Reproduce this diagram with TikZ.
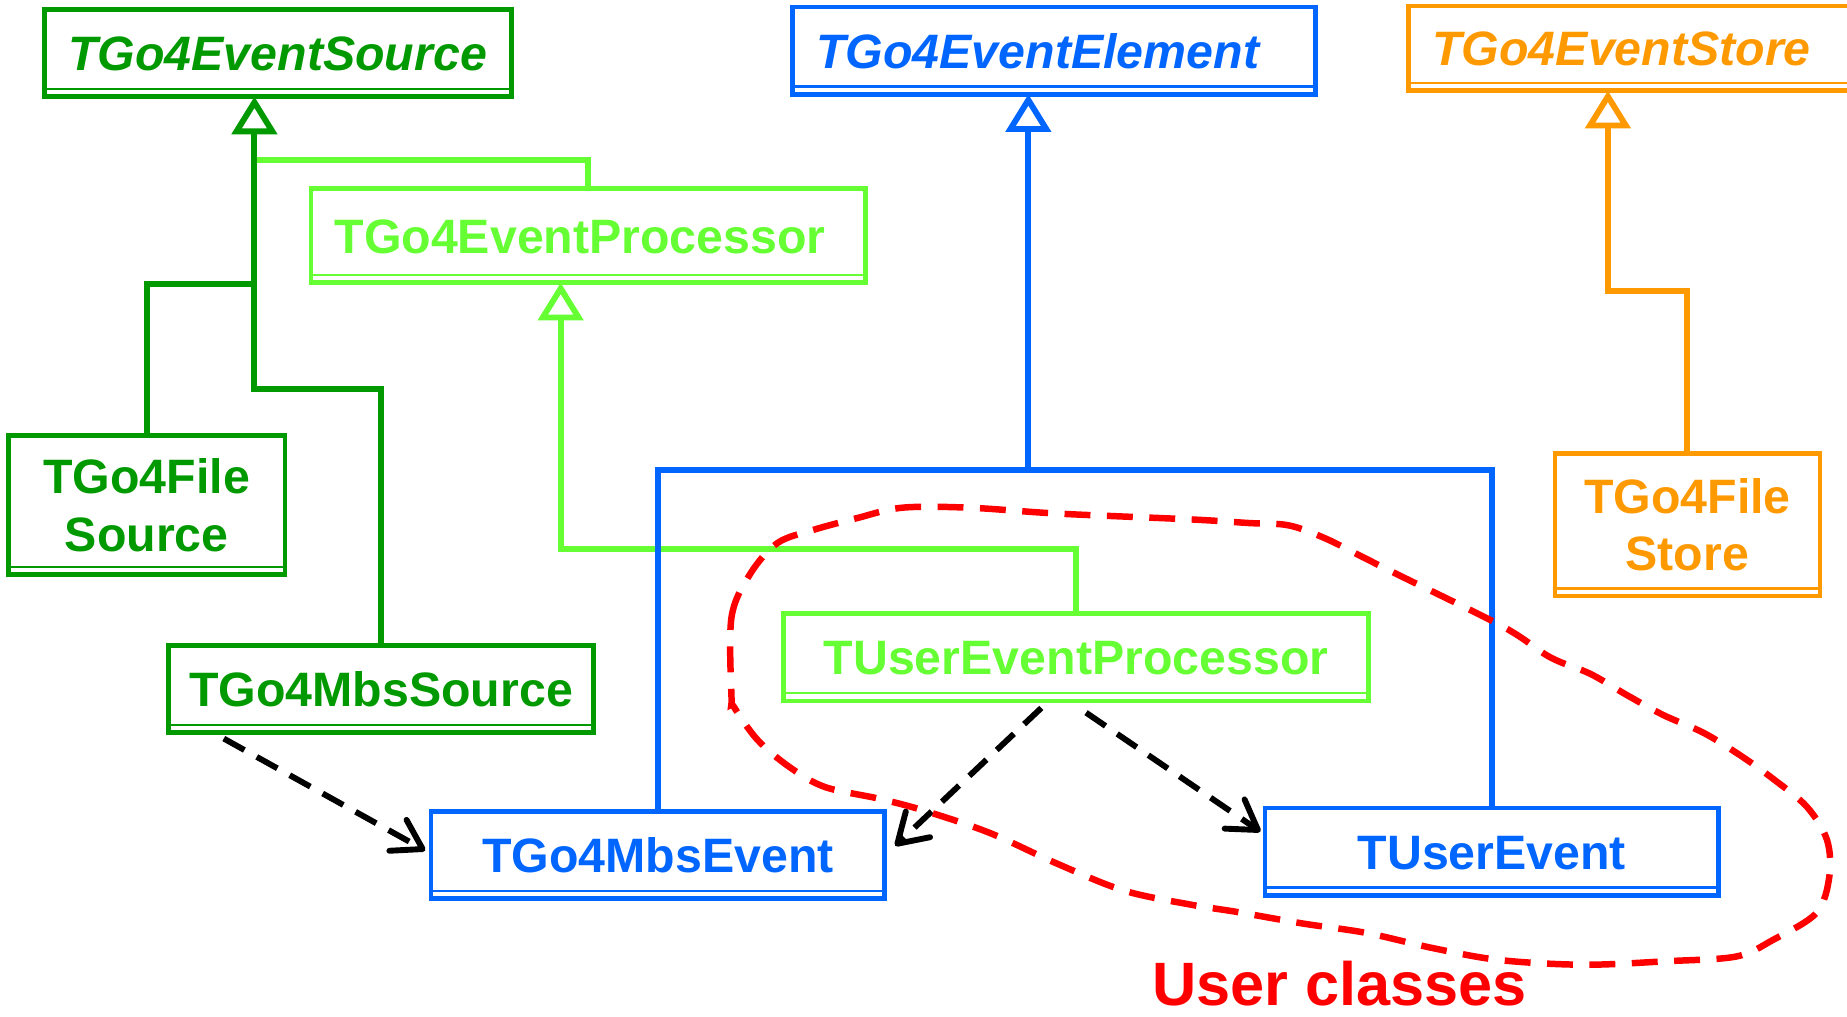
\documentclass[tikz,border=0pt]{standalone}
\usepackage{fontspec}
\setmainfont{Liberation Sans}
\usetikzlibrary{arrows.meta}
\definecolor{dgreen}{RGB}{0,153,0}
\definecolor{lgreen}{RGB}{102,255,51}
\definecolor{cblue}{RGB}{0,102,255}
\definecolor{corange}{RGB}{255,153,0}
\definecolor{cred}{RGB}{255,0,0}
\begin{document}
\begin{tikzpicture}[x=1pt,y=-1pt,
  cls/.style={draw=#1, text=#1, line width=4pt, fill=white, inner sep=0pt, outer sep=0pt,
    font=\bfseries\fontsize{41}{49}\selectfont, align=center},
  oneline/.style={text height=30pt, text depth=0pt},
  abst/.style={align=left, inner xsep=20pt, text width=#1},
  conn/.style={draw=#1, line width=5pt},
  inh/.style={draw=#1, line width=5pt, -{Triangle[open,length=32pt,width=38pt]}},
  dep/.style={draw=black, line width=5pt, dash pattern=on 20pt off 12pt,
    -{Straight Barb[length=24pt,width=30pt,round]}},
  grp/.style={draw=cred, line width=5.5pt, dash pattern=on 22pt off 14pt},
]
\useasboundingbox (0,0) rectangle (1568,863);
\clip (0,0) rectangle (1568,863);

% abstract base classes
\node[cls=dgreen, oneline, abst=356pt, minimum height=74pt, font=\bfseries\itshape\fontsize{41}{49}\selectfont]
  (src) at (236,45) {TGo4EventSource};
\node[cls=cblue, oneline, abst=404pt, minimum height=74pt, font=\bfseries\itshape\fontsize{41}{49}\selectfont]
  (elem) at (895,43) {TGo4EventElement};
\node[cls=corange, oneline, abst=354pt, minimum height=72pt, font=\bfseries\itshape\fontsize{41}{49}\selectfont]
  (store) at (1393,41) {TGo4EventStore};

% concrete classes
\node[cls=lgreen, oneline, abst=431pt, minimum height=80pt] (proc) at (499.5,200) {TGo4EventProcessor};
\node[cls=dgreen, minimum width=235pt, minimum height=118pt] (fsrc) at (124.5,429) {TGo4File\\Source};
\node[cls=dgreen, oneline, minimum width=361pt, minimum height=74pt] (msrc) at (323.5,585) {TGo4MbsSource};
\node[cls=lgreen, oneline, minimum width=497pt, minimum height=74pt] (uproc) at (913.5,558) {TUserEventProcessor};
\node[cls=cblue, oneline, minimum width=385pt, minimum height=74pt] (mev) at (558.5,726) {TGo4MbsEvent};
\node[cls=cblue, oneline, minimum width=385pt, minimum height=74pt] (uev) at (1266.5,723) {TUserEvent};
\node[cls=corange, minimum width=225pt, minimum height=121pt] (fstore) at (1432.5,445.5) {TGo4File\\Store};

% empty compartments at the bottom of each class box
\foreach \n/\c in {src/dgreen, elem/cblue, store/corange, proc/lgreen, fsrc/dgreen,
                   msrc/dgreen, uproc/lgreen, mev/cblue, uev/cblue, fstore/corange}
  \draw[\c, line width=2pt] ([yshift=6.5pt]\n.south west) -- ([yshift=6.5pt]\n.south east);

% junction points of the inheritance trees
\coordinate (gj0) at (218,136);
\coordinate (gj1) at (216,241);
\coordinate (gj2) at (216,330);
\coordinate (lj) at (476,466);
\coordinate (bj) at (873,399);
\coordinate (oj) at (1365,247);

% inheritance: event sources
\draw[inh=dgreen] (msrc.north) |- (gj2) -- ([xshift=-20pt]src.south);
\draw[conn=dgreen] (fsrc.north) |- (gj1);
\draw[conn=lgreen] (gj0) -| (proc.north);
% inheritance: processors
\draw[inh=lgreen] (uproc.north) |- (lj) -- ([xshift=-23.5pt]proc.south);
% inheritance: event elements
\draw[inh=cblue] (mev.north) |- (bj) -- ([xshift=-22pt]elem.south);
\draw[conn=cblue] (uev.north) |- (bj);
% inheritance: stores
\draw[inh=corange] (fstore.north) |- (oj) -- ([xshift=-28pt]store.south);

% usage dependencies
\draw[dep] ([shift={(-133.5,5)}]msrc.south) -- ([shift={(-5,-4)}]mev.west);
\draw[dep] ([shift={(-29.5,6)}]uproc.south) -- ([shift={(9,-8)}]mev.east);
\draw[dep] ([shift={(8.5,10)}]uproc.south) -- ([shift={(-4,-17)}]uev.west);

% group of user classes
\draw[grp] plot[smooth cycle, tension=0.55] coordinates {
  (621,592) (621,524) (637,487) (660,461) (690,450) (727,440) (766,431) (823,431)
  (898,436) (1012,441) (1060,444) (1094,446) (1125,457) (1159,474) (1185,487)
  (1276,532) (1316,558) (1350,572) (1381,590) (1412,607) (1446,622) (1477,641)
  (1505,661) (1534,685) (1551,713) (1553,744) (1542,775) (1505,798) (1474,812)
  (1415,816) (1344,819) (1273,815) (1217,805) (1160,792) (1106,784) (1049,774)
  (1011,768) (954,756) (897,733) (840,707) (784,688) (746,678) (700,668)
  (670,651) (643,628) (623,600)};
\node[text=cred, anchor=base, inner sep=0pt, font=\bfseries\fontsize{52}{60}\selectfont]
  (ulab) at (1137,854) {User classes};
\end{tikzpicture}
\end{document}
